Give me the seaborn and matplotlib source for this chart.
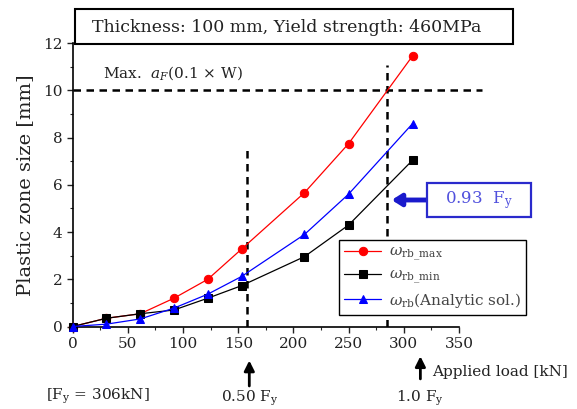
import matplotlib
matplotlib.use("Agg")
import matplotlib.pyplot as plt
from matplotlib.patches import Rectangle
import seaborn as sns
import pandas as pd

# Applied load [kN] and plastic zone size [mm]
load = [0, 30.6, 61.2, 91.8, 122.4, 153, 210, 250, 308]
w_max = [0, 0.35, 0.54, 1.2, 2.0, 3.28, 5.67, 7.75, 11.47]
w_min = [0, 0.35, 0.54, 0.7, 1.2, 1.73, 2.96, 4.3, 7.05]
w_rb = [0, 0.1, 0.32, 0.78, 1.37, 2.12, 3.9, 5.61, 8.6]

labels = [r"$\omega_{\mathrm{rb\_max}}$", r"$\omega_{\mathrm{rb\_min}}$",
          r"$\omega_{\mathrm{rb}}$(Analytic sol.)"]
colors = ["#ff0000", "#000000", "#0000ff"]
markers = ["o", "s", "^"]

max_af = 10
x_half = 158      # dashed line near 0.5 Fy
x_093 = 0.93 * 306
arrow_x = [160, 315]
arrow_txt = [r"0.50 F$_{\mathrm{y}}$", r"1.0 F$_{\mathrm{y}}$"]

sns.set_style("ticks")
plt.rcParams["font.family"] = ["DejaVu Serif"]
plt.rcParams["mathtext.fontset"] = "dejavuserif"

fig = plt.figure(figsize=(5.77, 4.09), dpi=100)
ax = fig.add_axes([0.126, 0.2017, 0.6695, 0.6925])

df = pd.DataFrame({"load": load * 3,
                   "size": w_max + w_min + w_rb,
                   "series": [labels[0]] * 9 + [labels[1]] * 9 + [labels[2]] * 9})
for lab, c, m in zip(labels, colors, markers):
    sub = df[df["series"] == lab]
    sns.lineplot(data=sub, x="load", y="size", ax=ax, color=c, marker=m,
                 markersize=6, markeredgecolor=c, lw=0.9, label=lab,
                 clip_on=False, zorder=3)

ax.set_xlim(0, 350)
ax.set_ylim(0, 12)
ax.set_xticks(range(0, 351, 50))
ax.set_yticks(range(0, 13, 2))
ax.set_xticks(range(0, 351, 25), minor=True)
ax.set_yticks(range(0, 13, 1), minor=True)
ax.tick_params(which="major", direction="out", length=4, width=1, labelsize=11, colors="#222222")
ax.tick_params(which="minor", direction="out", length=2.5, width=0.8)
for s in ["top", "right"]:
    ax.spines[s].set_visible(False)
for s in ["left", "bottom"]:
    ax.spines[s].set_linewidth(1.2)
    ax.spines[s].set_color("black")
ax.set_xlabel("")
ax.set_ylabel("Plastic zone size [mm]", fontsize=14, color="#222222", labelpad=6)

# dashed guide lines
ax.plot([0, 371], [max_af, max_af], ls=(0, (3, 2.2)), color="black", lw=1.8, clip_on=False, zorder=2)
ax.plot([x_half, x_half], [0, 7.6], ls=(0, (3, 2.2)), color="black", lw=1.8, zorder=2)
ax.plot([x_093, x_093], [0, 11.1], ls=(0, (3, 2.2)), color="black", lw=1.8, zorder=2)
ax.text(27, 10.55, r"Max.  $a_F$(0.1 $\times$ W)", fontsize=11, color="#222222")

# 0.93 Fy box and arrow
fig.patches.append(Rectangle((427 / 577, 1 - 217 / 409), 104 / 577, 34 / 409,
                             transform=fig.transFigure, fc="white", ec="#2a2acc", lw=1.6))
fig.text(479 / 577, 1 - 200 / 409, r"0.93  F$_{\mathrm{y}}$", fontsize=12,
         color="#5050dd", ha="center", va="center")
ax.annotate("", xy=(289, 5.36), xytext=(321, 5.36), annotation_clip=False,
            arrowprops=dict(arrowstyle="-|>,head_length=0.55,head_width=0.35",
                            lw=3.5, color="#1a1acc", shrinkA=0, shrinkB=0))

# arrows below the x axis
ax.annotate("", xy=(arrow_x[0], -0.12), xytext=(arrow_x[0], -0.21),
            xycoords=("data", "axes fraction"), annotation_clip=False,
            arrowprops=dict(arrowstyle="-|>,head_length=0.6,head_width=0.3", lw=2, color="black", shrinkA=0, shrinkB=0))
ax.annotate("", xy=(arrow_x[1], -0.105), xytext=(arrow_x[1], -0.185),
            xycoords=("data", "axes fraction"), annotation_clip=False,
            arrowprops=dict(arrowstyle="-|>,head_length=0.6,head_width=0.3", lw=2, color="black", shrinkA=0, shrinkB=0))
for xa, t in zip(arrow_x, arrow_txt):
    ax.text(xa, -0.255, t, transform=ax.get_xaxis_transform(), ha="center", va="center",
            fontsize=11, color="#222222", clip_on=False)
ax.text(326, -0.16, "Applied load [kN]", transform=ax.get_xaxis_transform(),
        ha="left", va="center", fontsize=11, color="#222222", clip_on=False)
ax.text(23, -0.245, r"[F$_{\mathrm{y}}$ = 306kN]", transform=ax.get_xaxis_transform(),
        ha="center", va="center", fontsize=11, color="#222222", clip_on=False)

# header box
fig.patches.append(Rectangle((75 / 577, 1 - 44 / 409), 438 / 577, 35 / 409,
                             transform=fig.transFigure, fill=False, ec="black", lw=1.5))
fig.text(92 / 577, 1 - 27 / 409, "Thickness: 100 mm, Yield strength: 460MPa",
         fontsize=12.5, color="#222222", va="center", ha="left")

leg = ax.legend(loc="upper left", bbox_to_anchor=(339 / 577, 1 - 240 / 409),
                bbox_transform=fig.transFigure, fontsize=11, frameon=True,
                fancybox=False, edgecolor="black", framealpha=1,
                handlelength=2.4, labelspacing=0.3, borderpad=0.35,
                handletextpad=0.5, borderaxespad=0)
leg.get_frame().set_linewidth(1.0)
for t in leg.get_texts():
    t.set_color("#444444")

fig.savefig("out.png", dpi=100)
